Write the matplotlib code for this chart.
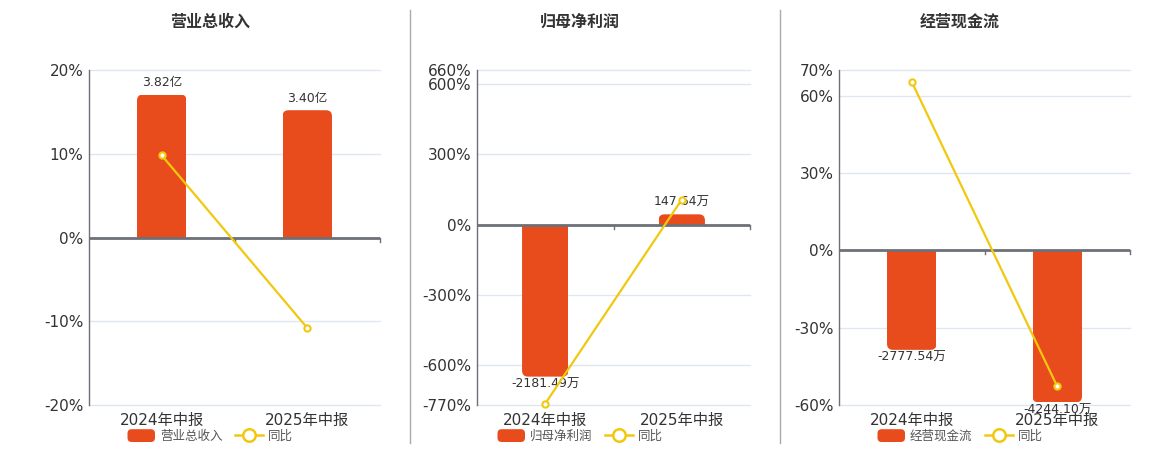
import matplotlib
matplotlib.use("Agg")
import matplotlib.pyplot as plt
from matplotlib.patches import FancyBboxPatch, Rectangle
from matplotlib.lines import Line2D
from matplotlib.legend_handler import HandlerPatch

plt.rcParams['font.family'] = ['DejaVu Sans', 'Noto Sans CJK SC']

# ==========================================================
# DATA
# ==========================================================

periods = ["2024年中报", "2025年中报"]

titles = ["营业总收入", "归母净利润", "经营现金流"]

revenue = [3.82, 3.40]            # 亿
revenue_labels = ["3.82亿", "3.40亿"]
revenue_yoy = [9.8, -10.8]        # %

profit = [-2181.49, 147.64]       # 万
profit_labels = ["-2181.49万", "147.64万"]
profit_yoy = [-764.0, 106.8]

cash = [-2777.54, -4244.10]       # 万
cash_labels = ["-2777.54万", "-4244.10万"]
cash_yoy = [65.4, -52.8]

yoy_ticks = [
    [-20, -10, 0, 10, 20],
    [-770, -600, -300, 0, 300, 600, 660],
    [-60, -30, 0, 30, 60, 70],
]

# ==========================================================
# STYLE
# ==========================================================

BAR = "#E84C1D"
LINE = "#F2C80F"
AXIS = "#6E7079"
GRID = "#E0E6F1"
TEXT = "#333333"

fig = plt.figure(figsize=(11.6, 4.5), dpi=100)

W, H = 1160, 450
boxes = [(89, 380), (477, 750), (839, 1130)]
centers = [210, 580, 960]
top_px, bot_px = 70, 405

# pixels per bar unit (largest bar height in the reference)
bar_px = [143 / 3.82, 152 / 2181.49, 152 / 4244.10]

bars_all = [revenue, profit, cash]
labels_all = [revenue_labels, profit_labels, cash_labels]
yoy_all = [revenue_yoy, profit_yoy, cash_yoy]


class HandlerRound(HandlerPatch):
    def create_artists(self, legend, orig_handle, xdescent, ydescent,
                       width, height, fontsize, trans):
        p = FancyBboxPatch((-xdescent, -ydescent), width, height,
                           boxstyle="round,pad=0,rounding_size=3",
                           facecolor=BAR, edgecolor="none", transform=trans)
        return [p]


def rounded_bars(axb, xs, vals, width, r_px):
    fig.canvas.draw()
    inv = axb.transData.inverted()
    p0 = inv.transform((0, 0))
    p1 = inv.transform((r_px, r_px))
    rx = abs(p1[0] - p0[0])
    ry = abs(p1[1] - p0[1])
    for x, v in zip(xs, vals):
        x0 = x - width / 2
        if v >= 0:
            y0, h = -ry, v + ry
        else:
            y0, h = v, -v + ry
        patch = FancyBboxPatch(
            (x0, y0), width, h,
            boxstyle=f"round,pad=0,rounding_size={rx}",
            mutation_aspect=ry / rx,
            facecolor=BAR, edgecolor="none", zorder=2,
        )
        axb.add_patch(patch)
        clip = Rectangle((x0, min(0, v)), width, abs(v),
                         transform=axb.transData)
        patch.set_clip_path(clip)


for i in range(3):

    left, right = boxes[i]
    rect = [left / W, 1 - bot_px / H, (right - left) / W, (bot_px - top_px) / H]

    ticks = yoy_ticks[i]
    ylo, yhi = ticks[0], ticks[-1]
    zero_frac = (0 - ylo) / (yhi - ylo)

    # ------------------------------------------------------
    # base axis: grid + ticks
    # ------------------------------------------------------

    ax = fig.add_axes(rect)
    ax.set_xlim(-0.5, 1.5)
    ax.set_ylim(ylo, yhi)
    ax.set_yticks(ticks)
    ax.set_yticklabels([f"{t}%" for t in ticks])
    ax.set_xticks([0, 1])
    ax.set_xticklabels(periods)
    ax.tick_params(axis="y", length=0, pad=4, labelsize=11, labelcolor=TEXT)
    ax.tick_params(axis="x", length=0, pad=6, labelsize=11, labelcolor=TEXT)
    for t in ticks:
        if t != 0:
            ax.axhline(t, color=GRID, lw=1, zorder=0, clip_on=False)
    for s in ["top", "right", "bottom"]:
        ax.spines[s].set_visible(False)
    ax.spines["left"].set_color(AXIS)
    ax.spines["left"].set_linewidth(1)

    # ------------------------------------------------------
    # bar axis
    # ------------------------------------------------------

    vals = bars_all[i]
    axb = ax.twinx()
    axb.set_xlim(-0.5, 1.5)
    span = (bot_px - top_px) / bar_px[i]
    axb.set_ylim(-zero_frac * span, (1 - zero_frac) * span)
    axb.axis("off")
    rounded_bars(axb, [0, 1], vals, 0.34, 6)

    for x, v, lab in zip([0, 1], vals, labels_all[i]):
        if v >= 0:
            axb.annotate(lab, (x, v), xytext=(0, 4), textcoords="offset points",
                         ha="center", va="bottom", fontsize=9, color=TEXT)
        else:
            axb.annotate(lab, (x, v), xytext=(0, -1), textcoords="offset points",
                         ha="center", va="top", fontsize=9, color=TEXT)

    # ------------------------------------------------------
    # line axis
    # ------------------------------------------------------

    axl = ax.twinx()
    axl.set_xlim(-0.5, 1.5)
    axl.set_ylim(ylo, yhi)
    axl.axis("off")
    axl.axhline(0, color=AXIS, lw=2, zorder=1)
    tr = axl.get_xaxis_transform()
    for bx in [0.5, 1.5]:
        axl.plot([bx, bx], [zero_frac, zero_frac - 0.012], color=AXIS,
                 lw=1, transform=tr, clip_on=False, zorder=1)
    axl.plot([0, 1], yoy_all[i], color=LINE, lw=1.6, marker="o",
             markersize=4.5, markerfacecolor="white", markeredgecolor=LINE,
             markeredgewidth=1.5, zorder=3, clip_on=False)

    # ------------------------------------------------------
    # title + legend
    # ------------------------------------------------------

    fig.text(centers[i] / W, 1 - 22 / H, titles[i], ha="center", va="center",
             fontsize=11.5, fontweight="bold", color=TEXT)

    handles = [
        Rectangle((0, 0), 1, 1, facecolor=BAR),
        Line2D([0], [0], color=LINE, lw=1.8, marker="o", markersize=9,
               markerfacecolor="white", markeredgecolor=LINE,
               markeredgewidth=1.8),
    ]
    fig.legend(handles, [titles[i], "同比"], loc="center",
               bbox_to_anchor=(centers[i] / W, 1 - 436 / H), ncol=2,
               frameon=False, fontsize=9, labelcolor="#555555",
               handlelength=2.2, handleheight=1.2, handletextpad=0.4,
               columnspacing=1.0, borderpad=0,
               handler_map={Rectangle: HandlerRound()})

# separators
for sx in [410, 780]:
    fig.add_artist(Line2D([sx / W, sx / W], [1 - 443 / H, 1 - 10 / H],
                          color="#AAAAAA", lw=1))

fig.savefig("out.png", dpi=100)
